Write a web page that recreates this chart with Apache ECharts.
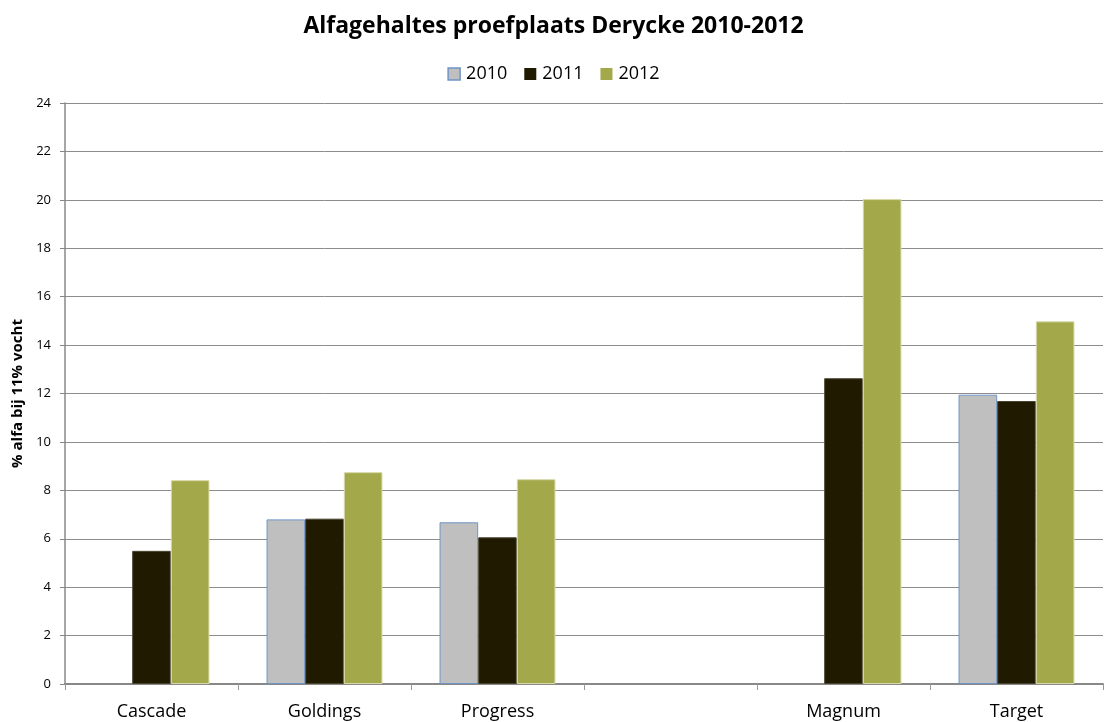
<!DOCTYPE html>
<html>
<head>
<meta charset="utf-8">
<script src="https://cdn.jsdelivr.net/npm/echarts@6/dist/echarts.min.js"></script>
<style>
  html, body { margin: 0; padding: 0; background: #fff; }
  #chart { width: 1107px; height: 722px; }
</style>
</head>
<body>
<div id="chart"></div>
<script>
// rassen (lege categorie tussen Progress en Magnum)
const rassen = ['Cascade', 'Goldings', 'Progress', '', 'Magnum', 'Target'];
const jaren = ['2010', '2011', '2012'];
const alfa2010 = [null, 6.8, 6.68, null, null, 11.95];
const alfa2011 = [5.5, 6.83, 6.06, null, 12.63, 11.69];
const alfa2012 = [8.42, 8.75, 8.46, null, 20.03, 14.98];
const yTicks = { min: 0, max: 24, step: 2 };

const kleuren = {
  '2010': { fill: '#BFBFBF', border: '#7094C6' },
  '2011': { fill: '#201A00', border: '#4a4530' },
  '2012': { fill: '#A3A84A', border: '#d7d9a8' }
};

const reeksen = [alfa2010, alfa2011, alfa2012];

const chart = echarts.init(document.getElementById('chart'));

const option = {
  backgroundColor: '#fff',
  animation: false,
  title: {
    text: 'Alfagehaltes proefplaats Derycke 2010-2012',
    left: 'center',
    top: 10,
    textStyle: { fontFamily: 'Open Sans', fontWeight: 'bold', fontSize: 23, color: '#000' }
  },
  legend: {
    top: 60,
    left: 'center',
    itemWidth: 12,
    itemHeight: 12,
    itemGap: 17,
    textStyle: { fontFamily: 'Open Sans', fontSize: 18, color: '#000', padding: [0, 0, 0, 1] },
    data: jaren.map(j => ({
      name: j,
      icon: 'rect',
      itemStyle: { color: kleuren[j].fill, borderColor: kleuren[j].border, borderWidth: j === '2010' ? 1.5 : 0 }
    }))
  },
  grid: { left: 65, right: 4, top: 103, bottom: 38 },
  xAxis: {
    type: 'category',
    data: rassen,
    axisLine: { lineStyle: { color: '#888', width: 2 } },
    axisTick: { show: true, length: 6, lineStyle: { color: '#999' } },
    axisLabel: { fontFamily: 'Open Sans', fontSize: 18, color: '#000', margin: 19 }
  },
  yAxis: {
    type: 'value',
    min: yTicks.min,
    max: yTicks.max,
    interval: yTicks.step,
    name: '% alfa bij 11% vocht',
    nameLocation: 'middle',
    nameGap: 32,
    nameTextStyle: { fontFamily: 'Open Sans', fontWeight: 'bold', fontSize: 15, color: '#000' },
    axisLine: { show: true, lineStyle: { color: '#888', width: 1.5 } },
    axisTick: { show: true, inside: false, length: 5, lineStyle: { color: '#888' } },
    axisLabel: { fontFamily: 'Open Sans', fontSize: 13, color: '#000', margin: 14 },
    splitLine: { lineStyle: { color: '#8c8c8c', width: 1 } }
  },
  series: jaren.map((j, i) => ({
    name: j,
    type: 'bar',
    data: reeksen[i],
    barGap: '0%',
    barCategoryGap: '33%',
    itemStyle: { color: kleuren[j].fill, borderColor: kleuren[j].border, borderWidth: 1 }
  }))
};

chart.setOption(option);
window.addEventListener('resize', () => chart.resize());
</script>
</body>
</html>
